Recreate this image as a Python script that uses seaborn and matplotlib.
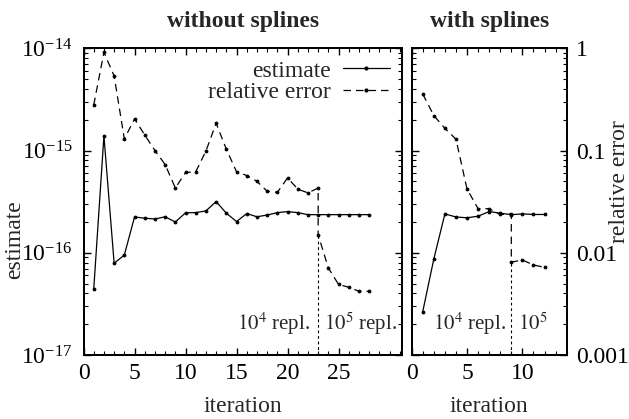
import numpy as np
import pandas as pd
import matplotlib
matplotlib.use('Agg')
import matplotlib.pyplot as plt
import matplotlib.ticker as mticker
from matplotlib.lines import Line2D
import seaborn as sns

# without splines
iter_nosp = list(range(1, 29))
est_nosp = [4.4e-17, 1.39e-15, 7.9e-17, 9.5e-17, 2.24e-16, 2.18e-16, 2.14e-16,
            2.25e-16, 2.0e-16, 2.46e-16, 2.47e-16, 2.57e-16, 3.17e-16, 2.44e-16,
            2.02e-16, 2.42e-16, 2.25e-16, 2.34e-16, 2.47e-16, 2.53e-16, 2.47e-16,
            2.36e-16, 2.36e-16, 2.36e-16, 2.36e-16, 2.36e-16, 2.36e-16, 2.36e-16]
rel_iter_nosp = list(range(1, 24)) + list(range(23, 29))
rel_nosp = [0.279, 0.914, 0.536, 0.13, 0.204, 0.142, 0.1, 0.073, 0.043, 0.061,
            0.062, 0.099, 0.185, 0.103, 0.062, 0.057, 0.050, 0.040, 0.039, 0.054,
            0.042, 0.0385, 0.043,
            0.015, 0.0071, 0.0049, 0.0046, 0.0042, 0.0042]
switch_nosp = 23
xticks_nosp = [0, 5, 10, 15, 20, 25]

# with splines
iter_sp = list(range(1, 13))
est_sp = [2.66e-17, 8.7e-17, 2.4e-16, 2.24e-16, 2.2e-16, 2.28e-16, 2.53e-16,
          2.44e-16, 2.36e-16, 2.4e-16, 2.37e-16, 2.37e-16]
rel_iter_sp = list(range(1, 10)) + list(range(9, 13))
rel_sp = [0.357, 0.22, 0.165, 0.129, 0.042, 0.027, 0.027, 0.0237, 0.024,
          0.0081, 0.0085, 0.0076, 0.0072]
switch_sp = 9
xticks_sp = [0, 5, 10]

est_ticks = [1e-17, 1e-16, 1e-15, 1e-14]
rel_ticks = [1e-3, 1e-2, 1e-1, 1]

sns.set_style('ticks')
plt.rcParams.update({
    'font.family': 'serif',
    'font.serif': ['Liberation Serif', 'DejaVu Serif'],
    'mathtext.fontset': 'stix',
    'font.size': 17,
    'axes.titlesize': 17,
    'xtick.direction': 'in',
    'ytick.direction': 'in',
    'xtick.major.size': 5, 'ytick.major.size': 5,
    'xtick.minor.size': 3, 'ytick.minor.size': 3,
    'xtick.major.width': 1, 'ytick.major.width': 1,
    'xtick.minor.width': 0.8, 'ytick.minor.width': 0.8,
    'axes.linewidth': 1.3,
    'axes.edgecolor': 'black',
    'xtick.color': 'black', 'ytick.color': 'black',
})

fig = plt.figure(figsize=(6.29, 4.19), dpi=100)
ax_l = fig.add_axes([0.1328, 0.1527, 0.506, 0.732])
ax_r = fig.add_axes([0.6545, 0.1527, 0.2464, 0.732])

dash = (0, (6, 4))
ms = 2.0


def draw_panel(ax, iters, est, rel_iters, rel, switch, xmax, xticks, title):
    ax.set_yscale('log')
    sns.lineplot(x=iters, y=est, ax=ax, color='black', lw=0.9, marker='o',
                 ms=ms, mec='black', estimator=None, sort=False, legend=False)
    ax.set_ylim(est_ticks[0], est_ticks[-1])
    ax.yaxis.set_major_locator(mticker.FixedLocator(est_ticks))
    ax.yaxis.set_minor_formatter(mticker.NullFormatter())
    ax.set_xlim(0, xmax)
    ax.xaxis.set_major_locator(mticker.FixedLocator(xticks))
    ax.xaxis.set_minor_locator(mticker.MultipleLocator(1))
    ax.tick_params(which='both', top=True, right=False)
    ax.tick_params(axis='x', pad=6)
    ax.set_xlabel('iteration')
    ax.xaxis.set_label_coords(0.5, -0.135)
    ax.set_title(title, fontweight='bold', pad=15)

    ax2 = ax.twinx()
    ax2.set_yscale('log')
    sns.lineplot(x=rel_iters, y=rel, ax=ax2, color='black', lw=0.9, marker='o',
                 ms=ms, mec='black', estimator=None, sort=False, legend=False,
                 linestyle=dash)
    ax2.set_ylim(rel_ticks[0], rel_ticks[-1])
    ax2.yaxis.set_major_locator(mticker.FixedLocator(rel_ticks))
    # separator between 10^4 and 10^5 replicas
    n_before = rel_iters.index(switch) + 1
    ax2.plot([switch, switch], [rel_ticks[0], rel[n_before]],
             color='black', lw=0.8, linestyle=(0, (2.5, 2.5)))
    ax2.tick_params(which='both', right=True, pad=7)
    ax2.yaxis.set_major_formatter(mticker.FuncFormatter(lambda v, p: f'{v:g}'))
    ax2.yaxis.set_minor_formatter(mticker.NullFormatter())
    ax2.set_ylabel('')
    return ax2


axt_l = draw_panel(ax_l, iter_nosp, est_nosp, rel_iter_nosp, rel_nosp,
                   switch_nosp, 31.2, xticks_nosp, 'without splines')
axt_r = draw_panel(ax_r, iter_sp, est_sp, rel_iter_sp, rel_sp,
                   switch_sp, 14, xticks_sp, 'with splines')

ax_l.tick_params(axis='y', pad=8)
ax_l.set_ylabel('estimate')
ax_l.yaxis.set_label_coords(-0.184, 0.375)
axt_l.tick_params(axis='y', which='both', labelright=False)

ax_r.tick_params(axis='y', which='both', labelleft=False)
ax_r.set_ylabel('')
axt_r.set_ylabel('relative error')
axt_r.yaxis.set_label_coords(1.27, 0.565)

# replica annotations
ann_size = 15
trans_l = ax_l.get_xaxis_transform()
ax_l.text(switch_nosp - 0.8, 0.08, '$10^4$ repl.', transform=trans_l,
          ha='right', va='baseline', fontsize=ann_size)
ax_l.text(switch_nosp + 0.6, 0.08, '$10^5$ repl.', transform=trans_l,
          ha='left', va='baseline', fontsize=ann_size)
trans_r = ax_r.get_xaxis_transform()
ax_r.text(switch_sp - 0.5, 0.08, '$10^4$ repl.', transform=trans_r,
          ha='right', va='baseline', fontsize=ann_size)
ax_r.text(switch_sp + 0.6, 0.08, '$10^5$', transform=trans_r,
          ha='left', va='baseline', fontsize=ann_size)

handles = [Line2D([], [], color='black', lw=0.9, marker='o', ms=ms),
           Line2D([], [], color='black', lw=0.9, marker='o', ms=ms, linestyle=dash)]
axt_l.legend(handles, ['estimate', 'relative error'], loc='upper right',
             frameon=False, markerfirst=False, handlelength=2.0,
             handletextpad=0.5, labelspacing=0.0, borderaxespad=0.3,
             borderpad=0.2)

fig.savefig('out.png', dpi=100)
